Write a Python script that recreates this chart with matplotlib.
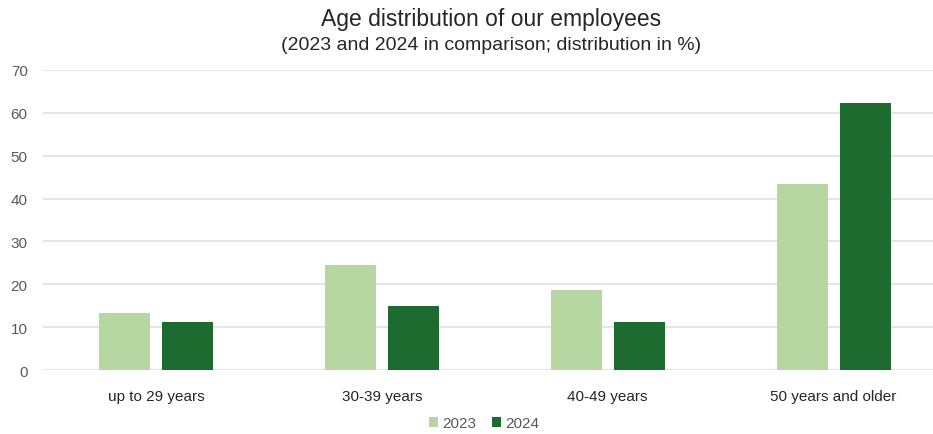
import numpy as np
import matplotlib
matplotlib.use("Agg")
import matplotlib.pyplot as plt

plt.rcParams["font.family"] = ["Liberation Sans", "DejaVu Sans"]

categories = ["up to 29 years", "30-39 years", "40-49 years", "50 years and older"]
share_2023 = [13.2, 24.5, 18.7, 43.3]
share_2024 = [11.1, 14.9, 11.2, 62.2]
series_labels = ["2023", "2024"]
yticks = [0, 10, 20, 30, 40, 50, 60, 70]

light_green = "#b6d7a1"
dark_green = "#1e6b30"

fig = plt.figure(figsize=(9.33, 4.35), dpi=100)
ax = fig.add_axes([0.0461, 0.1471, 0.9539, 0.6897])

x = np.arange(len(categories))
width = 0.226
offset = 0.1396

ax.bar(x - offset, share_2023, width, color=light_green, label=series_labels[0], zorder=3)
ax.bar(x + offset, share_2024, width, color=dark_green, label=series_labels[1], zorder=3)

ax.set_xlim(-0.5, 3.44)
ax.set_ylim(0, 70)
ax.set_yticks(yticks)
ax.set_xticks(x)
ax.set_xticklabels(categories)
ax.grid(axis="y", color="#e0e0e0", linewidth=1.2, zorder=0)
for s in ax.spines.values():
    s.set_visible(False)
ax.tick_params(axis="both", length=0, labelsize=11, labelcolor="#595959")
ax.tick_params(axis="x", pad=14, labelcolor="#262626")
ax.tick_params(axis="y", pad=11)

fig.text(0.526, 0.955, "Age distribution of our employees", ha="center", va="center",
         fontsize=16.5, color="#262626")
fig.text(0.526, 0.895, "(2023 and 2024 in comparison; distribution in %)", ha="center",
         va="center", fontsize=14, color="#262626")

fig.legend(loc="center", bbox_to_anchor=(0.519, 0.025), ncol=2, frameon=False,
           fontsize=11, handlelength=0.6, handleheight=0.6, handletextpad=0.3,
           columnspacing=1.0, labelcolor="#595959")

fig.savefig("out.png", dpi=100)
